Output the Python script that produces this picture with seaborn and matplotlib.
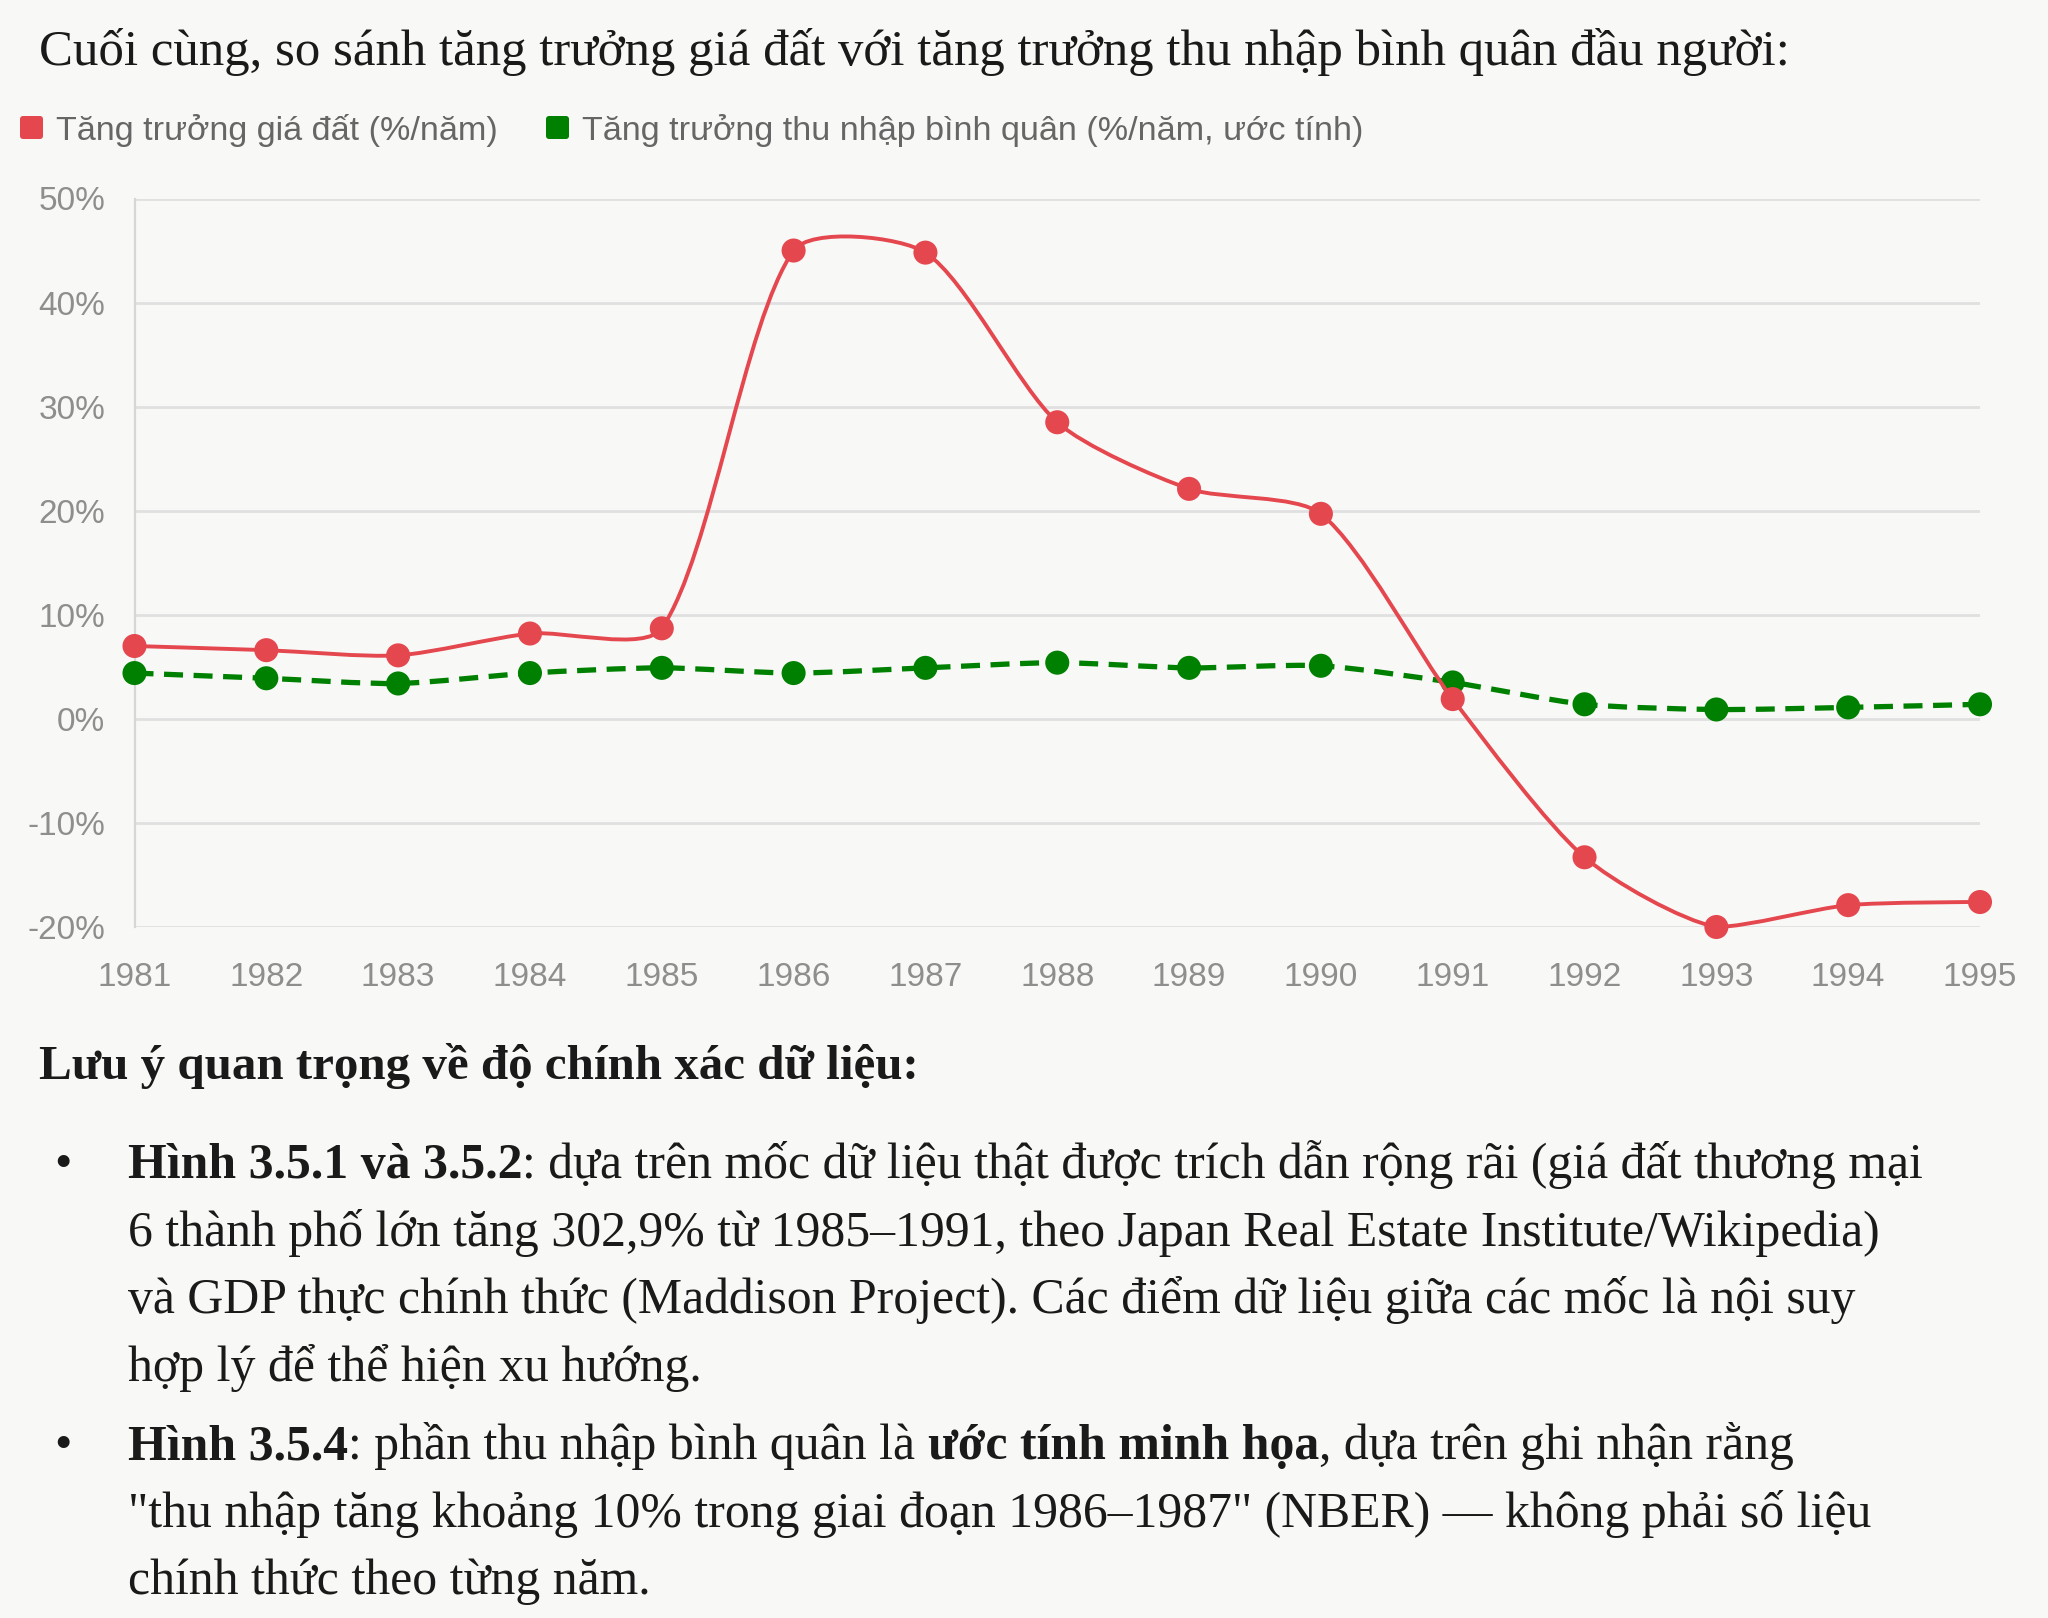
import matplotlib
matplotlib.use("Agg")
import numpy as np
import pandas as pd
import matplotlib.pyplot as plt
import seaborn as sns
from matplotlib.path import Path
from matplotlib.patches import PathPatch, FancyBboxPatch

# data
years = [1981, 1982, 1983, 1984, 1985, 1986, 1987, 1988, 1989, 1990, 1991, 1992, 1993, 1994, 1995]
land_growth = [7.0, 6.6, 6.1, 8.2, 8.7, 45.0, 44.8, 28.5, 22.1, 19.7, 1.9, -13.3, -20.0, -17.9, -17.6]
income_growth = [4.4, 3.9, 3.4, 4.4, 4.9, 4.4, 4.9, 5.4, 4.9, 5.1, 3.5, 1.4, 0.9, 1.1, 1.4]
y_ticks = [-20, -10, 0, 10, 20, 30, 40, 50]
land_label = "Tăng trưởng giá đất (%/năm)"
income_label = "Tăng trưởng thu nhập bình quân (%/năm, ước tính)"

title = "Cuối cùng, so sánh tăng trưởng giá đất với tăng trưởng thu nhập bình quân đầu người:"
note_head = "Lưu ý quan trọng về độ chính xác dữ liệu:"
bullets = [
    [
        [("Hình 3.5.1 và 3.5.2", "bold"), (": dựa trên mốc dữ liệu thật được trích dẫn rộng rãi (giá đất thương mại", "normal")],
        [("6 thành phố lớn tăng 302,9% từ 1985–1991, theo Japan Real Estate Institute/Wikipedia)", "normal")],
        [("và GDP thực chính thức (Maddison Project). Các điểm dữ liệu giữa các mốc là nội suy", "normal")],
        [("hợp lý để thể hiện xu hướng.", "normal")],
    ],
    [
        [("Hình 3.5.4", "bold"), (": phần thu nhập bình quân là", "normal"), (" ước tính minh họa", "bold"),
         (", dựa trên ghi nhận rằng", "normal")],
        [("\"thu nhập tăng khoảng 10% trong giai đoạn 1986–1987\" (NBER) — không phải số liệu", "normal")],
        [("chính thức theo từng năm.", "normal")],
    ],
]

RED = "#e5474f"
GREEN = "#008000"
BG = "#f8f8f6"
INK = "#1a1a1a"
W, H = 2048, 1618
SERIF = ["Liberation Serif", "DejaVu Serif"]
SANS = ["Liberation Sans", "DejaVu Sans"]

sns.set_style("white")
plt.rcParams["font.family"] = SANS

df = pd.DataFrame({
    "year": years * 2,
    "value": land_growth + income_growth,
    "series": [land_label] * len(years) + [income_label] * len(years),
})

fig = plt.figure(figsize=(W / 100, H / 100), dpi=100, facecolor=BG)
renderer = fig.canvas.get_renderer()


def fx(x):
    return x / W


def fy(y):
    return 1 - y / H


ax = fig.add_axes([fx(134.5), fy(927), fx(1980) - fx(134.5), (927 - 198.5) / H])
ax.set_facecolor(BG)
ax.set_xlim(1981, 1995)
ax.set_ylim(-20, 50)


def smooth_path(xs, ys, t=0.25):
    # chart.js style bezier spline, control points computed in pixel space
    pts = ax.transData.transform(np.column_stack([xs, ys]))
    prev_cp = pts.copy()
    next_cp = pts.copy()
    for i in range(1, len(pts) - 1):
        p0, p1, p2 = pts[i - 1], pts[i], pts[i + 1]
        d01 = np.hypot(*(p1 - p0))
        d12 = np.hypot(*(p2 - p1))
        s01 = d01 / (d01 + d12)
        s12 = d12 / (d01 + d12)
        prev_cp[i] = p1 - t * s01 * (p2 - p0)
        next_cp[i] = p1 + t * s12 * (p2 - p0)
    bb = ax.bbox
    for cp in (prev_cp, next_cp):
        cp[:, 1] = np.clip(cp[:, 1], bb.y0, bb.y1)
    verts = [pts[0]]
    codes = [Path.MOVETO]
    for i in range(len(pts) - 1):
        verts += [next_cp[i], prev_cp[i + 1], pts[i + 1]]
        codes += [Path.CURVE4] * 3
    return Path(ax.transData.inverted().transform(np.array(verts)), codes)


ax.add_patch(PathPatch(smooth_path(years, income_growth), fill=False, edgecolor=GREEN,
                       lw=3.8, linestyle=(0, (3.6, 2.0)), zorder=3, clip_on=False))
ax.add_patch(PathPatch(smooth_path(years, land_growth), fill=False, edgecolor=RED,
                       lw=2.8, zorder=5, clip_on=False))

sns.scatterplot(data=df[df.series == income_label], x="year", y="value", color=GREEN,
                s=300, edgecolor="none", ax=ax, zorder=4, legend=False)
sns.scatterplot(data=df[df.series == land_label], x="year", y="value", color=RED,
                s=300, edgecolor="none", ax=ax, zorder=6, legend=False)
for c in ax.collections:
    c.set_clip_on(False)

ax.set_xlim(1981, 1995)
ax.set_ylim(-20, 50)
ax.set_xticks(years)
ax.set_xticklabels([str(y) for y in years])
ax.set_yticks(y_ticks)
ax.set_yticklabels([f"{v}%" for v in y_ticks])
ax.set_xlabel("")
ax.set_ylabel("")
ax.grid(axis="y", color="#e0e0e0", lw=2.0)
ax.grid(axis="x", visible=False)
for s in ["top", "right", "bottom"]:
    ax.spines[s].set_visible(False)
ax.spines["left"].set_color("#d6d6d6")
ax.spines["left"].set_linewidth(1.6)
ax.tick_params(axis="y", length=14, width=1.4, color="#e0e0e0", pad=7,
               labelsize=24, labelcolor="#8e8e8e")
ax.tick_params(axis="x", length=0, pad=25, labelsize=24, labelcolor="#8e8e8e")

# legend
for x0, label in [(20, land_label), (546, income_label)]:
    col = RED if label == land_label else GREEN
    fig.patches.append(FancyBboxPatch((x0 / 100, (H - 139) / 100), 0.23, 0.23,
                                      boxstyle="round,pad=0,rounding_size=0.03",
                                      transform=fig.dpi_scale_trans, facecolor=col,
                                      edgecolor="none"))
    fig.text(fx(x0 + 36), fy(140), label, fontsize=24.6, color="#666666",
             family=SANS, va="baseline")


def text_width(s, weight, size):
    t = fig.text(0, 0, s, fontsize=size, fontweight=weight, family=SERIF)
    w = t.get_window_extent(renderer).width
    t.remove()
    return w


def fit_size(s, weight, target):
    # font size so the run spans the width measured on the reference
    return 30 * target / text_width(s, weight, 30)


title_size = fit_size(title, "normal", 1750)
fig.text(fx(39), fy(65), title, fontsize=title_size, color=INK, family=SERIF, va="baseline")
head_size = fit_size(note_head, "bold", 879)
fig.text(fx(39), fy(1079), note_head, fontsize=head_size, color=INK, family=SERIF,
         fontweight="bold", va="baseline")

first = bullets[0][0]
w30 = sum(text_width(t.strip(" "), wt, 30) for t, wt in first) + text_width("a a", "normal", 30) - text_width("aa", "normal", 30)
BODY = 30 * 1805 / w30
space_w = text_width("a a", "normal", BODY) - text_width("aa", "normal", BODY)


def draw_runs(x, y, runs):
    for txt, weight in runs:
        lead = len(txt) - len(txt.lstrip(" "))
        x += lead * space_w
        core = txt.strip(" ")
        t = fig.text(fx(x), fy(y), core, fontsize=BODY, fontweight=weight,
                     color=INK, family=SERIF, va="baseline")
        x += t.get_window_extent(renderer).width


baselines = [[1178, 1246, 1313, 1381], [1459, 1527, 1594]]
for lines, ys in zip(bullets, baselines):
    fig.text(fx(63), fy(ys[0]), "•", fontsize=BODY, color=INK, family=SERIF,
             va="baseline", ha="center")
    for runs, y in zip(lines, ys):
        draw_runs(128, y, runs)

fig.savefig("out.png", dpi=100, facecolor=BG)
